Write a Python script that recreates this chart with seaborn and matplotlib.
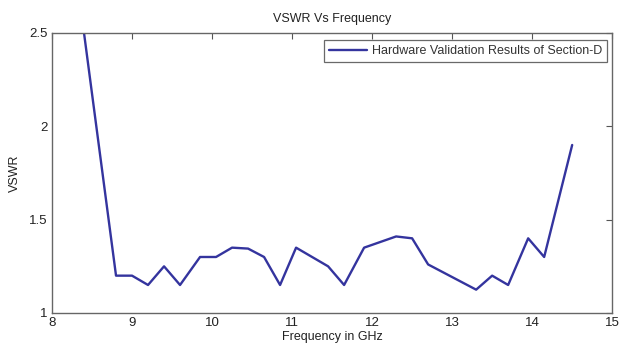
import matplotlib
matplotlib.use("Agg")
import matplotlib.pyplot as plt
import seaborn as sns
import pandas as pd

freq_ghz = [8.4, 8.8, 9.0, 9.2, 9.4, 9.6, 9.85, 10.05, 10.25, 10.45, 10.65, 10.85,
            11.05, 11.45, 11.65, 11.9, 12.3, 12.5, 12.7, 13.3, 13.5, 13.7, 13.95,
            14.15, 14.5]
vswr = [2.5, 1.2, 1.2, 1.15, 1.25, 1.15, 1.3, 1.3, 1.35, 1.345, 1.3, 1.15,
        1.35, 1.25, 1.15, 1.35, 1.41, 1.40, 1.26, 1.125, 1.2, 1.15, 1.40,
        1.30, 1.90]
series_label = "Hardware Validation Results of Section-D"
x_ticks = [8, 9, 10, 11, 12, 13, 14, 15]
y_ticks = [1, 1.5, 2, 2.5]
y_tick_labels = ["1", "1.5", "2", "2.5"]

sns.set_theme(style="white")
plt.rcParams["font.family"] = ["Liberation Sans", "DejaVu Sans"]

df = pd.DataFrame({"Frequency": freq_ghz, "VSWR": vswr, "Series": series_label})

fig = plt.figure(figsize=(6.19, 3.47), dpi=100)
ax = fig.add_axes([0.084, 0.098, 0.905, 0.807])
sns.lineplot(data=df, x="Frequency", y="VSWR", hue="Series", palette=["#34349e"],
             linewidth=1.7, ax=ax, sort=False)

ax.set_xlim(8, 15)
ax.set_ylim(1, 2.5)
ax.set_xticks(x_ticks)
ax.set_yticks(y_ticks)
ax.set_yticklabels(y_tick_labels)
ax.tick_params(direction="in", top=True, right=True, length=4, width=0.8,
               colors="#555555", labelcolor="#222222", labelsize=9.5, pad=3)
for s in ax.spines.values():
    s.set_color("#666666")
    s.set_linewidth(1.0)
ax.set_title("VSWR Vs Frequency", fontsize=9, color="#222222", pad=8)
ax.set_xlabel("Frequency in GHz", fontsize=9, color="#222222", labelpad=1)
ax.set_ylabel("VSWR", fontsize=9, color="#222222", labelpad=6)

leg = ax.legend(loc="upper right", fontsize=9, frameon=True, fancybox=False,
                handlelength=3.0, handletextpad=0.4, borderpad=0.4,
                borderaxespad=0, bbox_to_anchor=(0.991, 0.975))
leg.get_frame().set_edgecolor("#444444")
leg.get_frame().set_linewidth(0.9)
for t in leg.get_texts():
    t.set_color("#333333")

fig.savefig("out.png", dpi=100)
